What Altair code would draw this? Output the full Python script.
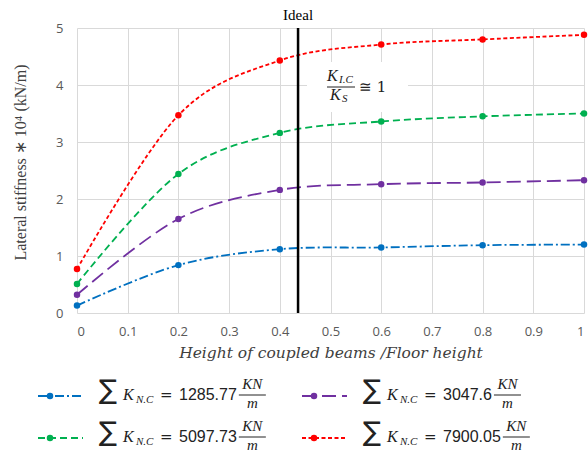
import altair as alt
import pandas as pd

# ---------------- data ----------------
x_vals = [0, 0.2, 0.4, 0.6, 0.8, 1.0]
series_names = ["1285.77", "3047.6", "5097.73", "7900.05"]
blue_vals = [0.13, 0.84, 1.12, 1.15, 1.19, 1.20]
purple_vals = [0.32, 1.65, 2.16, 2.26, 2.29, 2.33]
green_vals = [0.51, 2.44, 3.16, 3.36, 3.45, 3.50]
red_vals = [0.77, 3.47, 4.43, 4.71, 4.80, 4.88]
ideal_x = [0.436]
x_ticks = [0, 0.1, 0.2, 0.3, 0.4, 0.5, 0.6, 0.7, 0.8, 0.9, 1]
y_ticks = [0, 0.5, 1, 1.5, 2, 2.5, 3, 3.5, 4, 4.5, 5]

colors = ["#0070C0", "#7030A0", "#00B050", "#FF0000"]
dashes = [[9, 3, 2, 3], [14, 6], [7, 4], [4, 2.5]]

rows = []
for name, vals in zip(series_names, [blue_vals, purple_vals, green_vals, red_vals]):
    for xv, yv in zip(x_vals, vals):
        rows.append({"x": xv, "y": yv, "series": name})
df = pd.DataFrame(rows)

# ---------------- layout ----------------
W, H = 507, 285
PL, PT = 77, 28

xs = alt.Scale(domain=[0, 1], nice=False, zero=False)
ys = alt.Scale(domain=[0, 5], nice=False)
cscale = alt.Scale(domain=series_names, range=colors)
dscale = alt.Scale(domain=series_names, range=dashes)

x_axis = alt.Axis(values=x_ticks, format="~g", grid=True, gridColor="#D9D9D9", gridWidth=1,
                  domain=False, ticks=False, labelFont="Open Sans", labelFontSize=13,
                  labelColor="#595959", labelPadding=12,
                  title="Height of coupled beams /Floor height", titleFont="DejaVu Serif",
                  titleFontStyle="italic", titleFontWeight="normal", titleFontSize=15.5,
                  titleColor="#404040", titleX=W / 2, titleY=39, titleBaseline="middle")
y_axis = alt.Axis(values=y_ticks, format="~g", grid=True, gridColor="#D9D9D9", gridWidth=1,
                  domain=False, ticks=False, labelFont="Open Sans", labelFontSize=13,
                  labelColor="#595959", labelPadding=14,
                  title="Lateral stiffness \u2217 10\u2074  (kN/m)", titleFont="Liberation Serif",
                  titleFontWeight="normal", titleFontSize=16, titleColor="#404040",
                  titleX=-57, titleY=134, titleAngle=-90, titleAlign="center",
                  titleBaseline="middle")

base = alt.Chart(df)
lines = base.mark_line(strokeWidth=1.8, interpolate="cardinal").encode(
    x=alt.X("x:Q", scale=xs, axis=x_axis),
    y=alt.Y("y:Q", scale=ys, axis=y_axis),
    color=alt.Color("series:N", scale=cscale, legend=None),
    strokeDash=alt.StrokeDash("series:N", scale=dscale, legend=None),
)
points = base.mark_point(filled=True, size=42, opacity=1).encode(
    x=alt.X("x:Q", scale=xs),
    y=alt.Y("y:Q", scale=ys),
    color=alt.Color("series:N", scale=cscale, legend=None),
)

ideal_df = pd.DataFrame({"x": ideal_x})
ideal_rule = alt.Chart(ideal_df).mark_rule(color="black", strokeWidth=2.5).encode(
    x=alt.X("x:Q", scale=xs))
ideal_text = alt.Chart(ideal_df).mark_text(text="Ideal", font="Liberation Serif", fontSize=15,
                                           color="black", baseline="middle").encode(
    x=alt.X("x:Q", scale=xs), y=alt.value(15 - PT))

one = pd.DataFrame({"a": [0]})


def txt(text, x, y, font="Liberation Serif", size=16, style="normal", align="left",
        baseline="alphabetic", color="#222222"):
    return alt.Chart(one).mark_text(text=text, font=font, fontSize=size, fontStyle=style,
                                    align=align, baseline=baseline, color=color).encode(
        x=alt.value(x - PL), y=alt.value(y - PT))


def hrule(x1, x2, y, color="#222222", width=1.0, dash=None):
    kw = dict(color=color, strokeWidth=width)
    if dash is not None:
        kw["strokeDash"] = dash
    return alt.Chart(one).mark_rule(**kw).encode(
        x=alt.value(x1 - PL), x2=alt.value(x2 - PL), y=alt.value(y - PT))


def dot(x, y, color):
    return alt.Chart(one).mark_point(filled=True, size=42, opacity=1, color=color).encode(
        x=alt.value(x - PL), y=alt.value(y - PT))


layers = [lines, points, ideal_rule, ideal_text]

# annotation K_I.C / K_S ≅ 1 with white box
box = alt.Chart(one).mark_rect(color="white").encode(
    x=alt.value(307 - PL), x2=alt.value(408 - PL), y=alt.value(62 - PT), y2=alt.value(112 - PT))
layers += [box,
           txt("K", 327, 81, style="italic", size=16),
           txt("I.C", 339, 83, style="italic", size=11),
           hrule(327, 355, 87),
           txt("K", 330, 100, style="italic", size=16),
           txt("S", 342, 102, style="italic", size=11),
           txt("\u2245 1", 359, 92, font="DejaVu Serif", size=15)]

# custom legend
legend_pos = [(0, 0), (1, 0), (0, 1), (1, 1)]  # (col, row) for each series
col_x = [98, 362]
for name, color, dash, (c, r) in zip(series_names, colors, dashes, legend_pos):
    x0 = col_x[c]
    bl = 400 + 42 * r
    sy = bl - 4
    layers.append(hrule(x0 - 60, x0 - 15, sy, color=color, width=1.8, dash=dash))
    layers.append(dot(x0 - 48, sy, color))
    layers.append(txt("\u2211", x0 + 10, bl - 9, font="DejaVu Sans", size=27,
                      align="center", baseline="middle"))
    layers.append(txt("K", x0 + 25, bl, style="italic", size=16))
    layers.append(txt("N.C", x0 + 38, bl + 3, style="italic", size=11))
    layers.append(txt("=", x0 + 62, bl, font="DejaVu Sans", size=15))
    layers.append(txt(name, x0 + 81, bl, font="Liberation Sans", size=16))
    nw = sum(4.45 if ch == "." else 8.9 for ch in name)
    b1 = x0 + 81 + nw + 2
    b2 = b1 + 27
    layers.append(hrule(b1, b2, bl - 5, width=1.0))
    layers.append(txt("KN", (b1 + b2) / 2, bl - 11, style="italic", size=15, align="center"))
    layers.append(txt("m", (b1 + b2) / 2, bl + 8, style="italic", size=15, align="center"))

chart = alt.layer(*layers).properties(
    width=W, height=H,
    autosize=alt.AutoSizeParams(type="none"),
    padding={"left": PL, "top": PT, "right": 4, "bottom": 140},
    background="white",
).configure_view(stroke=None)

chart.save("out.html", embed_options={"renderer": "svg", "actions": False})
